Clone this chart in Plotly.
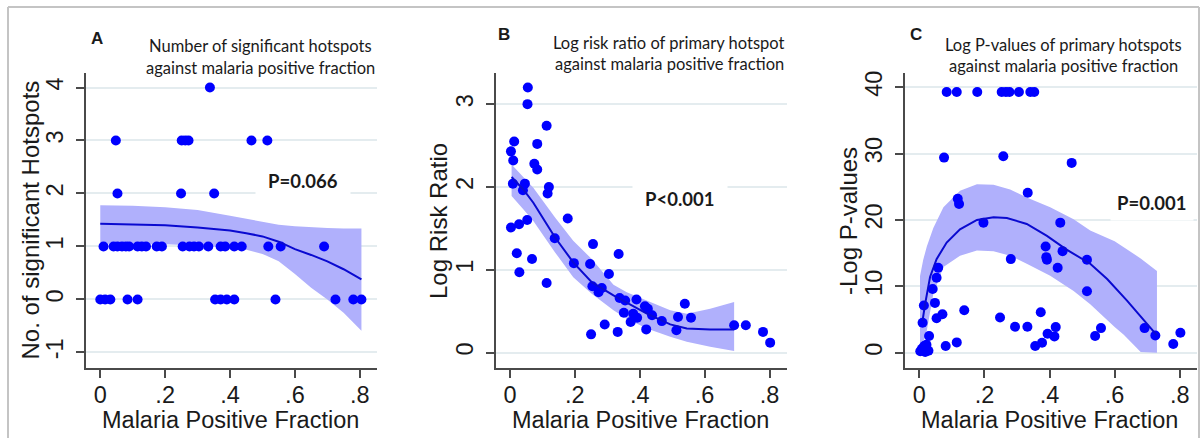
import plotly.graph_objects as go

W, H = 1204, 438

# ---------------- Panel A data ----------------
a_frac = [0.000, 0.015, 0.031, 0.084, 0.115, 0.354, 0.371, 0.390, 0.413, 0.540, 0.725, 0.780, 0.805,
          0.010, 0.041, 0.053, 0.067, 0.079, 0.089, 0.115, 0.128, 0.141, 0.174, 0.190, 0.254,
          0.275, 0.289, 0.304, 0.333, 0.371, 0.385, 0.413, 0.436, 0.518, 0.556, 0.690,
          0.053, 0.249, 0.351,
          0.048, 0.251, 0.262, 0.272, 0.466, 0.515,
          0.338]
a_hot = [0, 0, 0, 0, 0, 0, 0, 0, 0, 0, 0, 0, 0,
         1, 1, 1, 1, 1, 1, 1, 1, 1, 1, 1, 1,
         1, 1, 1, 1, 1, 1, 1, 1, 1, 1, 1,
         2, 2, 2,
         3, 3, 3, 3, 3, 3,
         4]
a_fit_x = [0.0, 0.1, 0.2, 0.3, 0.4, 0.45, 0.5, 0.55, 0.6, 0.65, 0.7, 0.75, 0.805]
a_fit_y = [1.43, 1.42, 1.40, 1.36, 1.30, 1.25, 1.19, 1.09, 0.95, 0.84, 0.72, 0.57, 0.38]
a_ci_hi = [1.78, 1.77, 1.74, 1.69, 1.58, 1.52, 1.46, 1.41, 1.38, 1.36, 1.35, 1.34, 1.34]
a_ci_lo = [1.05, 1.05, 1.04, 1.02, 0.98, 0.94, 0.86, 0.72, 0.48, 0.22, 0.00, -0.25, -0.59]
a_ticks = [-1, 0, 1, 2, 3, 4]
a_ticktext = ["-1", "0", "1", "2", "3", "4"]

# ---------------- Panel B data ----------------
b_frac = [0.055, 0.054, 0.113, 0.013, 0.003, 0.084, 0.010, 0.075, 0.084, 0.009, 0.046, 0.040,
          0.120, 0.116, 0.003, 0.028, 0.053, 0.178, 0.138, 0.021, 0.068, 0.029, 0.113, 0.197,
          0.247, 0.256, 0.335, 0.305, 0.254, 0.283, 0.273, 0.338, 0.355, 0.390, 0.416, 0.425,
          0.438, 0.351, 0.380, 0.392, 0.372, 0.468, 0.539, 0.518, 0.558, 0.513, 0.691, 0.727,
          0.780, 0.802, 0.292, 0.332, 0.250, 0.420]
b_lrr = [3.20, 3.00, 2.74, 2.55, 2.43, 2.52, 2.32, 2.28, 2.21, 2.04, 2.04, 1.96,
         2.00, 1.92, 1.51, 1.55, 1.60, 1.62, 1.38, 1.20, 1.13, 0.97, 0.84, 1.08,
         1.07, 1.31, 1.19, 0.95, 0.80, 0.78, 0.73, 0.66, 0.63, 0.64, 0.56, 0.53,
         0.45, 0.48, 0.47, 0.42, 0.37, 0.38, 0.59, 0.43, 0.42, 0.27, 0.33, 0.33,
         0.25, 0.12, 0.34, 0.25, 0.22, 0.28]
b_fit_x = [0.005, 0.041, 0.072, 0.139, 0.195, 0.252, 0.319, 0.360, 0.422, 0.494, 0.545, 0.617, 0.691]
b_fit_y = [2.12, 1.97, 1.81, 1.39, 1.09, 0.85, 0.69, 0.60, 0.47, 0.34, 0.29, 0.28, 0.28]
b_ci_hi = [2.27, 2.12, 1.99, 1.63, 1.35, 1.13, 0.82, 0.73, 0.63, 0.51, 0.47, 0.53, 0.61]
b_ci_lo = [1.89, 1.73, 1.59, 1.21, 0.91, 0.71, 0.51, 0.41, 0.29, 0.19, 0.13, 0.07, 0.02]
b_ticks = [0, 1, 2, 3]

# ---------------- Panel C data ----------------
c_frac = [0.084, 0.115, 0.178, 0.253, 0.266, 0.277, 0.306, 0.341, 0.353,
          0.076, 0.258, 0.468, 0.333, 0.118, 0.122, 0.197, 0.433, 0.388, 0.390, 0.392,
          0.440, 0.281, 0.515, 0.425, 0.515, 0.058, 0.053, 0.041, 0.048, 0.014, 0.010,
          0.053, 0.071, 0.138, 0.248, 0.373, 0.294, 0.332, 0.419, 0.394, 0.415, 0.377,
          0.356, 0.540, 0.558, 0.692, 0.725, 0.780, 0.802, 0.030, 0.081, 0.115, 0.003,
          0.008, 0.015, 0.022, 0.028, 0.018]
c_logp = [39.3, 39.3, 39.3, 39.3, 39.3, 39.3, 39.3, 39.3, 39.3,
          29.4, 29.6, 28.6, 24.1, 23.2, 22.4, 19.6, 19.6, 16.0, 14.4, 14.0,
          15.3, 14.1, 14.0, 12.8, 9.25, 12.8, 11.3, 9.6, 7.5, 7.1, 4.5,
          5.2, 5.8, 6.4, 5.3, 6.1, 3.9, 3.9, 3.85, 2.85, 2.45, 1.5,
          1.0, 2.5, 3.7, 3.7, 2.6, 1.3, 3.0, 2.5, 1.0, 1.55, 0.2,
          0.6, 1.0, 1.2, 0.3, 0.1]
c_fit_x = [0.010, 0.018, 0.033, 0.053, 0.084, 0.125, 0.177, 0.228, 0.269, 0.330, 0.392, 0.450,
           0.525, 0.577, 0.638, 0.689, 0.730]
c_fit_y = [4.85, 7.4, 11.4, 14.1, 16.6, 18.6, 20.0, 20.4, 20.3, 19.4, 17.6, 15.6,
           13.4, 11.1, 7.85, 4.85, 2.6]
c_ci_x = [0.002, 0.012, 0.023, 0.033, 0.043, 0.074, 0.125, 0.177, 0.228, 0.279, 0.330, 0.402,
          0.474, 0.525, 0.600, 0.628, 0.680, 0.730]
c_ci_hi = [11.5, 14.0, 16.0, 17.4, 18.8, 21.9, 24.4, 25.4, 25.3, 24.6, 23.4, 21.9,
           20.1, 18.4, 16.8, 15.9, 14.2, 12.3]
c_ci_lo = [0.2, 1.5, 3.35, 6.0, 8.85, 12.9, 14.6, 15.4, 15.3, 14.6, 13.4, 11.6,
           9.3, 7.3, 3.85, 2.7, 0.1, 0.0]
c_ticks = [0, 10, 20, 30, 40]

x_tickvals = [0, 0.2, 0.4, 0.6, 0.8]
x_ticktext = ["0", ".2", ".4", ".6", ".8"]

BAND = "#b0b0fc"
DOT = "#0000ff"
LINE = "#0a0ad0"
AXC = "#4a4a4a"
GRID = "#e4ecef"
TXT = "#1a1a1a"

fig = go.Figure()

def add_panel(n, band_x, hi, lo, fit_x, fit_y, px, py):
    xa = "x" if n == 1 else "x%d" % n
    ya = "y" if n == 1 else "y%d" % n
    fig.add_trace(go.Scatter(x=list(band_x) + list(band_x)[::-1], y=list(hi) + list(lo)[::-1],
                             fill="toself", fillcolor=BAND, line=dict(width=0), mode="lines",
                             hoverinfo="skip", showlegend=False, xaxis=xa, yaxis=ya))
    fig.add_trace(go.Scatter(x=px, y=py, mode="markers", marker=dict(color=DOT, size=10),
                             showlegend=False, xaxis=xa, yaxis=ya))
    fig.add_trace(go.Scatter(x=fit_x, y=fit_y, mode="lines", line=dict(color=LINE, width=2),
                             showlegend=False, xaxis=xa, yaxis=ya))

add_panel(1, a_fit_x, a_ci_hi, a_ci_lo, a_fit_x, a_fit_y, a_frac, a_hot)
add_panel(2, b_fit_x, b_ci_hi, b_ci_lo, b_fit_x, b_fit_y, b_frac, b_lrr)
add_panel(3, c_ci_x, c_ci_hi, c_ci_lo, c_fit_x, c_fit_y, c_frac, c_logp)

tickfont = dict(family="Liberation Sans, Arial", size=23.5, color=TXT)
top, bot = 71, 368

def xax(l, r):
    return dict(domain=[l / W, r / W], range=[-0.044, 0.853], tickvals=x_tickvals, ticktext=x_ticktext,
                showgrid=False, zeroline=False, showline=True, linecolor=AXC, linewidth=1.5,
                ticks="outside", ticklen=8, tickwidth=1.5, tickcolor=AXC, tickfont=tickfont,
                ticklabelstandoff=-3, fixedrange=True)

def yax(anchor, rng, tickvals, ticktext=None):
    d = dict(domain=[1 - bot / H, 1 - top / H], range=rng, tickvals=tickvals, anchor=anchor,
             showgrid=True, gridcolor=GRID, gridwidth=1.5, zeroline=False, showline=True,
             linecolor=AXC, linewidth=1.5, ticks="outside", ticklen=8, tickwidth=1.5,
             tickcolor=AXC, tickfont=tickfont, tickangle=-90, ticklabelstandoff=4,
             fixedrange=True)
    if ticktext:
        d["ticktext"] = ticktext
    return d

fig.update_layout(
    width=W, height=H, margin=dict(l=0, r=0, t=0, b=0),
    paper_bgcolor="white", plot_bgcolor="white", showlegend=False,
    xaxis=dict(xax(86, 377), anchor="y"),
    xaxis2=dict(xax(495.7, 786.7), anchor="y2"),
    xaxis3=dict(xax(905, 1197), anchor="y3"),
    yaxis=yax("x", [-1.30, 4.28], a_ticks, a_ticktext),
    yaxis2=yax("x2", [-0.19, 3.38], b_ticks),
    yaxis3=yax("x3", [-2.36, 42.2], c_ticks),
)

ann = []
def txt(x, y, s, size, family="Liberation Sans, Arial", angle=0, bg=None, pad=1):
    d = dict(x=x / W, y=1 - y / H, xref="paper", yref="paper", text=s, showarrow=False,
             xanchor="center", yanchor="middle", textangle=angle,
             font=dict(family=family, size=size, color=TXT), borderpad=pad)
    if bg:
        d["bgcolor"] = bg
    ann.append(d)

# axis titles
for cx in (230, 640, 1049):
    txt(cx, 420, "Malaria Positive Fraction", 23.5)
txt(30, 219.5, "No. of significant Hotspots", 24, angle=-90)
txt(439, 220, "Log Risk Ratio", 24, angle=-90)
txt(849, 220, "-Log P-values", 24, angle=-90)

# panel letters
txt(97, 37, "<b>A</b>", 17)
txt(504, 33, "<b>B</b>", 17)
txt(916, 33, "<b>C</b>", 17)

# panel subtitles
SUB = "Lato"
SS = 16.5
txt(260, 44, "Number of significant hotspots", SS, SUB)
txt(260, 66, "against malaria positive fraction", SS, SUB)
txt(669, 41, "Log risk ratio of primary hotspot", SS, SUB)
txt(669, 62, "against malaria positive fraction", SS, SUB)
txt(1063, 43, "Log P-values of primary hotspots", SS, SUB)
txt(1063, 64, "against malaria positive fraction", SS, SUB)

# P values
txt(303, 180, "<b>P=0.066</b>", 18.5, SUB, bg="white", pad=12)
txt(680, 198, "<b>P&lt;0.001</b>", 18.5, SUB, bg="white", pad=12)
txt(1152, 202, "<b>P=0.001</b>", 18.5, SUB, bg="white", pad=6)

fig.update_layout(annotations=ann)

# outer grey frame (top, left, right)
frame = dict(type="line", xref="paper", yref="paper", line=dict(color="#c4c4c4", width=2))
fig.update_layout(shapes=[
    dict(frame, x0=8 / W, x1=1199 / W, y0=1 - 5 / H, y1=1 - 5 / H),
    dict(frame, x0=8 / W, x1=8 / W, y0=0, y1=1 - 5 / H),
    dict(frame, x0=1199 / W, x1=1199 / W, y0=0, y1=1 - 5 / H),
])

fig.write_html("out.html")
